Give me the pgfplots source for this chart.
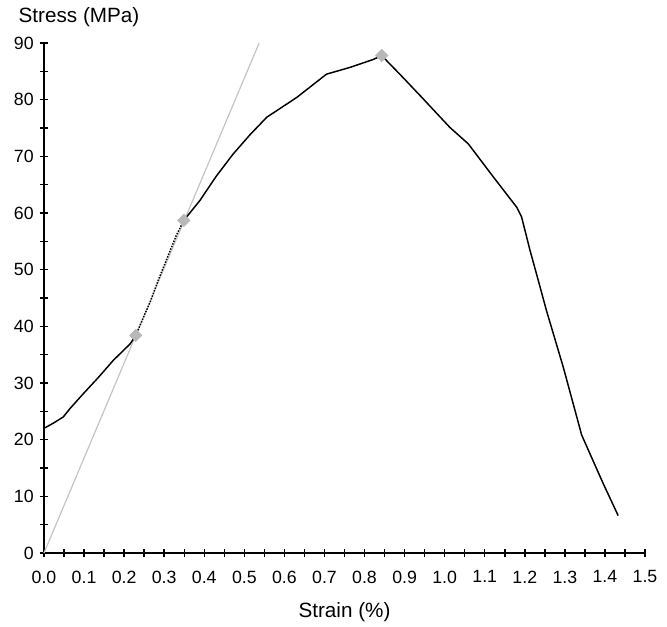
\documentclass[border=0pt]{standalone}
\usepackage{fontspec}
\setmainfont{Liberation Sans}
\usepackage{pgfplots}
\pgfplotsset{compat=1.18}
\definecolor{lgray}{HTML}{C4C4C4}
\definecolor{mgray}{HTML}{B8B8B8}
\begin{document}
\begin{tikzpicture}
\begin{axis}[
  name=ax,
  scale only axis,
  width=450.75pt, height=382.5pt,
  xmin=0, xmax=1.5, ymin=0, ymax=90,
  axis lines=left,
  axis line style={line width=1.5pt, -},
  xtick distance=0.1, ytick distance=10,
  minor x tick num=1, minor y tick num=1,
  tick align=center,
  major tick length=6.5pt, minor tick length=6.5pt,
  every tick/.style={black, line width=1.1pt},
  tick label style={font=\fontsize{13.3}{15}\selectfont},
  /pgf/number format/assume math mode=true,
  xticklabel style={/pgf/number format/.cd, fixed, fixed zerofill, precision=1, /tikz/.cd, yshift=-6.5pt},
  yticklabel style={/pgf/number format/.cd, fixed, precision=0, /tikz/.cd, xshift=-1pt},
  xlabel={Strain (\%)},
  xlabel style={font=\fontsize{15.5}{18}\selectfont, at={(rel axis cs:0.5,0)}, anchor=base, yshift=-48.5pt},
  ylabel={Stress (MPa)},
  ylabel style={font=\fontsize{15.5}{18}\selectfont, rotate=-90, at={(rel axis cs:0,1)}, anchor=base west, xshift=-22.5pt, yshift=15.5pt},
  clip=false,
]
% tangent (gray) line
\addplot[lgray, line width=0.9pt] coordinates {(0,0) (0.537,90)};
% stress-strain curve, first part
\addplot[black, line width=1.1pt] coordinates {
 (0,22.0) (0.023,22.9) (0.048,24.0) (0.065,25.5) (0.098,28.1) (0.136,31.0) (0.173,34.0) (0.215,36.9) (0.229,38.4)};
% dotted part between the two markers
\addplot[black, line width=1.1pt, densely dotted] coordinates {
 (0.229,38.4) (0.252,42.2) (0.265,44.3) (0.285,48.1) (0.310,52.5) (0.330,56.0) (0.349,58.7)};
% remaining curve
\addplot[black, line width=1.1pt] coordinates {
 (0.349,58.7) (0.389,62.2) (0.430,66.5) (0.472,70.4) (0.514,73.8) (0.556,76.9) (0.631,80.4) (0.705,84.5) (0.764,85.7) (0.822,87.1) (0.843,87.8)
 (0.859,86.6) (0.888,84.5) (0.947,80.1) (1.013,75.1) (1.059,72.2) (1.120,66.5) (1.180,61.0) (1.192,59.3)
 (1.213,53.4) (1.229,49.3) (1.254,42.8) (1.296,32.8) (1.342,20.8) (1.396,12.2) (1.433,6.6)};
% markers
\addplot[only marks, mark=square*, mark size=3.3pt, mark options={fill=mgray, draw=mgray, rotate=45}] coordinates {
 (0.229,38.4) (0.349,58.7) (0.843,87.8)};
\end{axis}
\path ([xshift=-33pt,yshift=-54pt]ax.south west) rectangle ([xshift=16.5pt,yshift=32.25pt]ax.north east);
\end{tikzpicture}
\end{document}
